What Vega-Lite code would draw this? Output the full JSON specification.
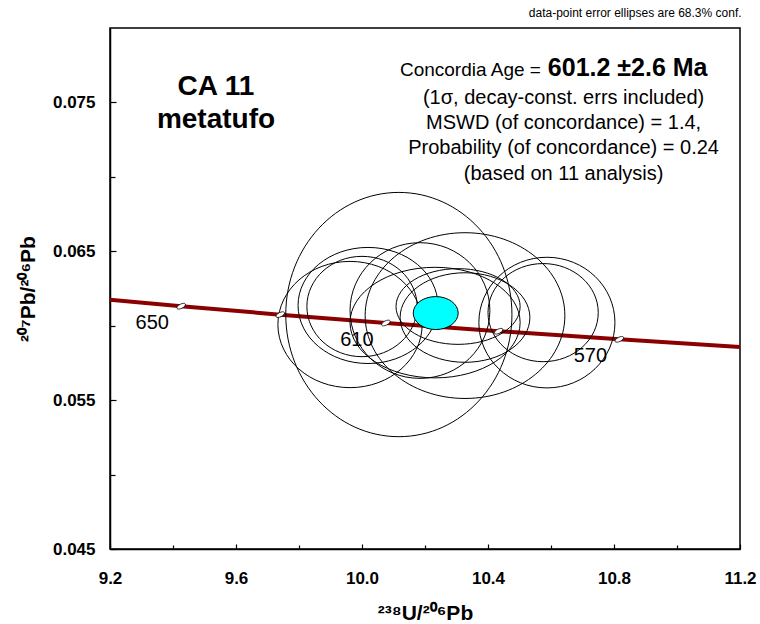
{
  "$schema": "https://vega.github.io/schema/vega-lite/v6.json",
  "width": 630,
  "height": 521,
  "autosize": {"type": "none"},
  "padding": {"left": 110, "top": 28, "right": 20, "bottom": 75},
  "background": "white",
  "config": {
    "view": {"stroke": "black", "strokeWidth": 1.5},
    "font": "Liberation Sans",
    "axis": {
      "domainColor": "black", "domainWidth": 1.5, "tickColor": "black", "tickWidth": 1.2,
      "grid": false, "labelFont": "Liberation Sans", "labelFontWeight": "bold", "labelFontSize": 17,
      "labelColor": "black", "titleFont": "Liberation Sans", "titleFontWeight": "bold",
      "titleFontSize": 21, "titleColor": "black", "labelFlush": false, "labelOverlap": false
    }
  },
  "datasets": {
    "analyses": [
      {"id": "1", "x": 10.117, "y": 0.06075, "sx": 0.359, "sy": 0.00821},
      {"id": "2", "x": 9.962, "y": 0.06008, "sx": 0.229, "sy": 0.00424},
      {"id": "3", "x": 10.019, "y": 0.06136, "sx": 0.222, "sy": 0.0039},
      {"id": "4", "x": 10.0, "y": 0.06129, "sx": 0.175, "sy": 0.00337},
      {"id": "5", "x": 10.327, "y": 0.06068, "sx": 0.317, "sy": 0.00559},
      {"id": "6", "x": 10.184, "y": 0.06102, "sx": 0.222, "sy": 0.00458},
      {"id": "7", "x": 10.587, "y": 0.06021, "sx": 0.216, "sy": 0.00438},
      {"id": "8", "x": 10.575, "y": 0.06088, "sx": 0.175, "sy": 0.0033},
      {"id": "9", "x": 10.305, "y": 0.06129, "sx": 0.197, "sy": 0.00256},
      {"id": "10", "x": 10.327, "y": 0.06055, "sx": 0.206, "sy": 0.00303},
      {"id": "11", "x": 10.232, "y": 0.06021, "sx": 0.27, "sy": 0.0037}
    ],
    "concordia": [
      {"age": 670, "x": 9.1302, "y": 0.061881},
      {"age": 650, "x": 9.426, "y": 0.06131},
      {"age": 630, "x": 9.7405, "y": 0.060744},
      {"age": 610, "x": 10.0758, "y": 0.060183},
      {"age": 590, "x": 10.4337, "y": 0.05963},
      {"age": 570, "x": 10.8169, "y": 0.059084},
      {"age": 550, "x": 11.2279, "y": 0.058539}
    ],
    "concordiaAge": [
      {"age": 601.2, "x": 10.234, "y": 0.06085, "sx": 0.0714, "sy": 0.00111}
    ]
  },
  "resolve": {"axis": {"x": "independent", "y": "independent"}},
  "layer": [
    {
      "data": {"name": "concordia"},
      "mark": {"type": "line", "color": "#8B0000", "strokeWidth": 4, "clip": true},
      "encoding": {
        "x": {"field": "x", "type": "quantitative",
          "scale": {"domain": [9.2, 11.2], "nice": false, "zero": false},
          "axis": {"orient": "bottom", "values": [9.4, 9.8, 10.2, 10.6, 11.0], "labels": false, "tickSize": -4, "domain": false, "title": null}},
        "y": {"field": "y", "type": "quantitative",
          "scale": {"domain": [0.045, 0.08], "nice": false, "zero": false},
          "axis": {"orient": "left", "values": [0.05, 0.06, 0.07], "labels": false, "tickSize": -5, "domain": false, "title": null}}
      }
    },
    {
      "data": {"name": "analyses"},
      "mark": {"type": "point", "filled": false, "stroke": "black", "strokeWidth": 1, "opacity": 1},
      "encoding": {
        "x": {"field": "x", "type": "quantitative",
          "scale": {"domain": [9.2, 11.2], "nice": false, "zero": false},
          "axis": {"orient": "bottom", "values": [9.2, 9.6, 10.0, 10.4, 10.8, 11.2], "format": ".1f", "tickSize": -5, "labelPadding": 26, "title": "²³⁸U/²⁰⁶Pb", "titlePadding": 16}},
        "y": {"field": "y", "type": "quantitative",
          "scale": {"domain": [0.045, 0.08], "nice": false, "zero": false},
          "axis": {"orient": "left", "values": [0.045, 0.055, 0.065, 0.075], "format": ".3f", "tickSize": -6, "labelPadding": 21, "title": "²⁰⁷Pb/²⁰⁶Pb", "titlePadding": 14}},
        "size": {"field": "sx", "type": "quantitative",
          "scale": {"type": "pow", "exponent": 2, "domain": [0, 1], "range": [0, 396900]}, "legend": null},
        "shape": {"field": "id", "type": "nominal",
          "scale": {
            "domain": ["1", "2", "3", "4", "5", "6", "7", "8", "9", "10", "11"],
            "range": [
              "M-1,0A1,1.08,0,1,1,1,0A1,1.08,0,1,1,-1,0Z",
              "M-1,0A1,0.875,0,1,1,1,0A1,0.875,0,1,1,-1,0Z",
              "M-1,0A1,0.83,0,1,1,1,0A1,0.83,0,1,1,-1,0Z",
              "M-1,0A1,0.91,0,1,1,1,0A1,0.91,0,1,1,-1,0Z",
              "M-1,0A1,0.83,0,1,1,1,0A1,0.83,0,1,1,-1,0Z",
              "M-1,0A1,0.97,0,1,1,1,0A1,0.97,0,1,1,-1,0Z",
              "M-1,0A1,0.96,0,1,1,1,0A1,0.96,0,1,1,-1,0Z",
              "M-1,0A1,0.89,0,1,1,1,0A1,0.89,0,1,1,-1,0Z",
              "M-1,0A1,0.61,0,1,1,1,0A1,0.61,0,1,1,-1,0Z",
              "M-1,0A1,0.69,0,1,1,1,0A1,0.69,0,1,1,-1,0Z",
              "M-1,0A1,0.65,0,1,1,1,0A1,0.65,0,1,1,-1,0Z"
            ]
          }, "legend": null}
      }
    },
    {
      "data": {"name": "concordia"},
      "transform": [{"filter": {"field": "age", "oneOf": [650, 630, 610, 590, 570]}}],
      "mark": {"type": "point", "filled": true, "fill": "white", "stroke": "black", "strokeWidth": 0.7, "opacity": 1,
        "shape": "M-1,0A1,0.45,0,1,1,1,0A1,0.45,0,1,1,-1,0Z", "size": 90, "angle": -27},
      "encoding": {
        "x": {"field": "x", "type": "quantitative", "scale": {"domain": [9.2, 11.2], "nice": false, "zero": false}, "axis": null},
        "y": {"field": "y", "type": "quantitative", "scale": {"domain": [0.045, 0.08], "nice": false, "zero": false}, "axis": null}
      }
    },
    {
      "data": {"name": "concordia"},
      "transform": [{"filter": {"field": "age", "oneOf": [650, 610, 570]}}],
      "mark": {"type": "text", "fontSize": 20, "font": "Liberation Sans", "color": "black", "dx": -29, "dy": 17, "align": "center", "baseline": "middle"},
      "encoding": {
        "x": {"field": "x", "type": "quantitative", "scale": {"domain": [9.2, 11.2], "nice": false, "zero": false}, "axis": null},
        "y": {"field": "y", "type": "quantitative", "scale": {"domain": [0.045, 0.08], "nice": false, "zero": false}, "axis": null},
        "text": {"field": "age", "type": "quantitative"}
      }
    },
    {
      "data": {"name": "concordiaAge"},
      "mark": {"type": "point", "filled": true, "fill": "#00FFFF", "stroke": "black", "strokeWidth": 1, "opacity": 1,
        "shape": "M-1,0A1,0.733,0,1,1,1,0A1,0.733,0,1,1,-1,0Z"},
      "encoding": {
        "x": {"field": "x", "type": "quantitative", "scale": {"domain": [9.2, 11.2], "nice": false, "zero": false}, "axis": null},
        "y": {"field": "y", "type": "quantitative", "scale": {"domain": [0.045, 0.08], "nice": false, "zero": false}, "axis": null},
        "size": {"field": "sx", "type": "quantitative",
          "scale": {"type": "pow", "exponent": 2, "domain": [0, 1], "range": [0, 396900]}, "legend": null}
      }
    },
    {
      "data": {"values": [{}]},
      "mark": {"type": "text", "fontSize": 28, "fontWeight": "bold", "font": "Liberation Sans", "align": "center", "baseline": "middle", "lineHeight": 32.5, "color": "black"},
      "encoding": {
        "x": {"datum": 9.5365, "type": "quantitative", "axis": null},
        "y": {"datum": 0.076003, "type": "quantitative", "axis": null},
        "text": {"value": ["CA 11", "metatufo"]}
      }
    },
    {
      "data": {"values": [{}]},
      "mark": {"type": "text", "fontSize": 19, "font": "Liberation Sans", "align": "right", "baseline": "alphabetic", "color": "black"},
      "encoding": {
        "x": {"datum": 10.568, "type": "quantitative", "axis": null},
        "y": {"datum": 0.076742, "type": "quantitative", "axis": null},
        "text": {"value": "Concordia Age ="}
      }
    },
    {
      "data": {"values": [{}]},
      "mark": {"type": "text", "fontSize": 25, "fontWeight": "bold", "font": "Liberation Sans", "align": "left", "baseline": "alphabetic", "color": "black"},
      "encoding": {
        "x": {"datum": 10.59, "type": "quantitative", "axis": null},
        "y": {"datum": 0.076742, "type": "quantitative", "axis": null},
        "text": {"value": "601.2 ±2.6 Ma"}
      }
    },
    {
      "data": {"values": [{}]},
      "mark": {"type": "text", "fontSize": 20, "font": "Liberation Sans", "align": "center", "baseline": "middle", "lineHeight": 25.2, "color": "black"},
      "encoding": {
        "x": {"datum": 10.64, "type": "quantitative", "axis": null},
        "y": {"datum": 0.075298, "type": "quantitative", "axis": null},
        "text": {"value": ["(1σ, decay-const. errs included)", "MSWD (of concordance) = 1.4,", "Probability (of concordance) = 0.24", "(based on 11 analysis)"]}
      }
    },
    {
      "data": {"values": [{}]},
      "mark": {"type": "text", "fontSize": 12, "font": "Liberation Sans", "align": "right", "baseline": "middle", "color": "black"},
      "encoding": {
        "x": {"datum": 11.205, "type": "quantitative", "axis": null},
        "y": {"datum": 0.081008, "type": "quantitative", "axis": null},
        "text": {"value": "data-point error ellipses are 68.3% conf."}
      }
    }
  ]
}
